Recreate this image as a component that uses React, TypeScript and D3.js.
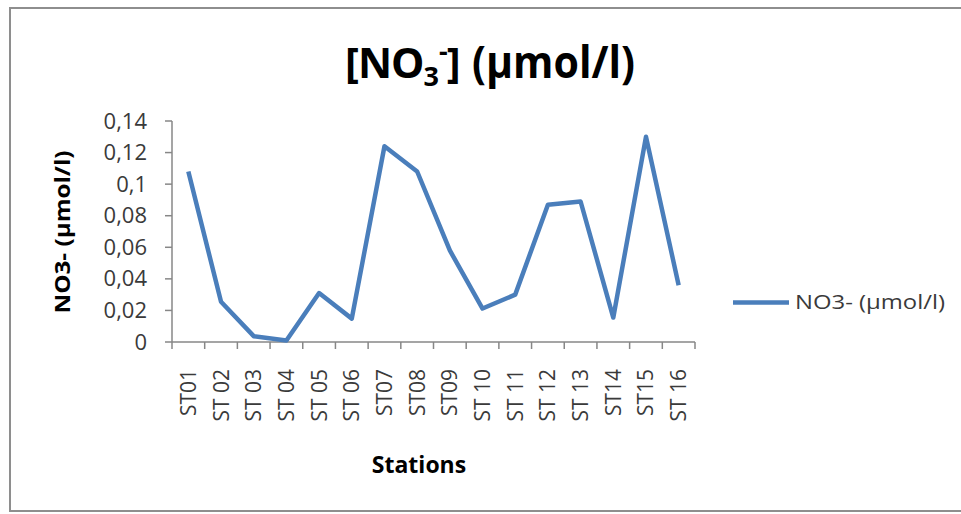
import React from 'react';
import * as d3 from 'd3';

const stations = ['ST01', 'ST 02', 'ST 03', 'ST 04', 'ST 05', 'ST 06', 'ST07', 'ST08', 'ST09', 'ST 10', 'ST 11', 'ST 12', 'ST 13', 'ST14', 'ST15', 'ST 16'];
const no3Values = [0.108, 0.0255, 0.0037, 0.001, 0.031, 0.0148, 0.124, 0.108, 0.058, 0.0212, 0.030, 0.087, 0.089, 0.0155, 0.130, 0.036];
const yTicks = [0, 0.02, 0.04, 0.06, 0.08, 0.1, 0.12, 0.14];
const seriesName = 'NO3- (µmol/l)';

const W = 961;
const H = 514;
const FONT = '"Open Sans", "Noto Sans", sans-serif';
const LINE_COLOR = '#4a7ebb';
const AXIS_COLOR = '#878787';

const fmt = (v: number) => String(+v.toFixed(2)).replace('.', ',');

export default function App() {
  const x = d3.scaleBand<string>().domain(stations).range([172, 695]);
  const y = d3.scaleLinear().domain([0, 0.14]).range([342, 121]);

  const line = d3.line<number>()
    .x((_, i) => (x(stations[i]) ?? 0) + x.bandwidth() / 2)
    .y(d => y(d));

  const [x0, x1] = x.range();
  const boundaries = d3.range(stations.length + 1).map(i => x0 + i * x.step());

  return (
    <svg width={W} height={H} style={{ position: 'absolute', left: 0, top: 0, background: '#fff' }} fontFamily={FONT}>
      {/* cadre */}
      <rect x={10} y={8} width={W} height={503} fill="#fff" stroke="#8e8e8e" strokeWidth={2} />

      {/* titre : [NO3-] avec indice et exposant */}
      <text x={345} y={78} fontSize={42} fontWeight="bold" fill="#000" letterSpacing={-1}>
        [NO<tspan fontSize={27} dy={8}>3</tspan><tspan fontSize={27} dx={1} dy={-25}>-</tspan><tspan dy={17}>]</tspan>
      </text>
      <text x={472} y={78} fontSize={44} fontWeight="bold" fill="#000"
        textLength={163} lengthAdjust="spacingAndGlyphs">(µmol/l)</text>

      {/* axe Y */}
      <line x1={x0} x2={x0} y1={y(0.14)} y2={y(0)} stroke={AXIS_COLOR} strokeWidth={1.5} />
      {yTicks.map(t => (
        <g key={t}>
          <line x1={x0 - 7} x2={x0} y1={y(t)} y2={y(t)} stroke={AXIS_COLOR} strokeWidth={1.5} />
          <text x={147} y={y(t) + 7.5} textAnchor="end" fontSize={22} fill="#3a3a3a">{fmt(t)}</text>
        </g>
      ))}
      <text transform={`translate(70,232) rotate(-90)`} textAnchor="middle" fontSize={21} fontWeight="bold"
        fill="#000" textLength={163} lengthAdjust="spacingAndGlyphs">{seriesName}</text>

      {/* axe X */}
      <line x1={x0} x2={x1} y1={y(0)} y2={y(0)} stroke={AXIS_COLOR} strokeWidth={1.5} />
      {boundaries.map((b, i) => (
        <line key={i} x1={b} x2={b} y1={y(0)} y2={y(0) + 7} stroke={AXIS_COLOR} strokeWidth={1.5} />
      ))}
      {stations.map(s => {
        const cx = (x(s) ?? 0) + x.bandwidth() / 2;
        return (
          <text key={s} transform={`translate(${cx + 7.5},369) rotate(-90)`} textAnchor="end" fontSize={21} fill="#3a3a3a">{s}</text>
        );
      })}
      <text x={419} y={473} textAnchor="middle" fontSize={23} fontWeight="bold" fill="#000">Stations</text>

      {/* série */}
      <path d={line(no3Values) ?? ''} fill="none" stroke={LINE_COLOR} strokeWidth={4.5} strokeLinejoin="round" />

      {/* légende */}
      <line x1={733} x2={789} y1={302.5} y2={302.5} stroke={LINE_COLOR} strokeWidth={4.5} />
      <text x={795} y={309} fontSize={20} fill="#3a3a3a" textLength={150} lengthAdjust="spacingAndGlyphs">{seriesName}</text>
    </svg>
  );
}
